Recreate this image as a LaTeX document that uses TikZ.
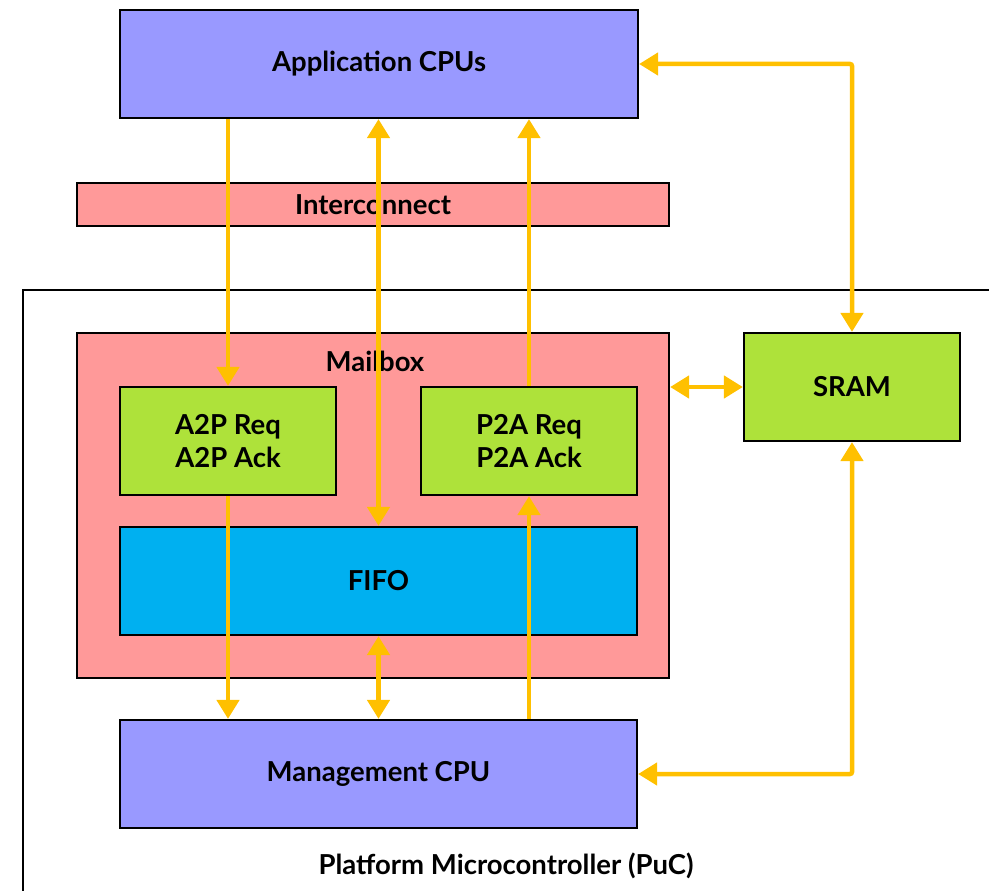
\documentclass[tikz,border=0pt]{standalone}
\usepackage{fontspec}
\setmainfont{Lato}
\usetikzlibrary{arrows.meta,calc}
\definecolor{cpublue}{HTML}{9999FF}
\definecolor{mbpink}{HTML}{FF9999}
\definecolor{memgreen}{HTML}{AEE23A}
\definecolor{fifoblue}{HTML}{00B0F0}
\definecolor{arrowyellow}{HTML}{FFC000}
\tikzset{
  blk/.style={draw=black, line width=2.2pt, rectangle, inner sep=0pt, font=\bfseries\fontsize{27.5}{33}\selectfont, align=center},
  flow/.style={draw=arrowyellow, line width=4.5pt, -{Triangle[width=22pt,length=19pt]}},
  flowboth/.style={draw=arrowyellow, line width=4.5pt, {Triangle[width=22pt,length=19pt]}-{Triangle[width=22pt,length=19pt]}},
  lbl/.style={font=\bfseries\fontsize{27.5}{33}\selectfont, inner sep=0pt}
}
\begin{document}
\begin{tikzpicture}[x=1pt,y=-1pt]
\useasboundingbox (0,0) rectangle (989,891);
% outer PuC frame
\draw[line width=2pt] (23,891) -- (23,290) -- (989,290);
% nodes
\node[blk, fill=cpublue, minimum width=518pt, minimum height=108pt] (app) at (379,64) {Application CPUs};
\node[blk, fill=mbpink, minimum width=592pt, minimum height=43pt] (ic) at (373,204.5) {Interconnect};
\node[blk, fill=mbpink, minimum width=592pt, minimum height=345pt] (mb) at (373,505.5) {};
\node[lbl] (mblbl) at (375,361) {Mailbox};
\node[blk, fill=memgreen, minimum width=216pt, minimum height=108pt] (a2p) at (228,441) {A2P Req\\A2P Ack};
\node[blk, fill=memgreen, minimum width=216pt, minimum height=108pt] (p2a) at (529,441) {P2A Req\\P2A Ack};
\node[blk, fill=fifoblue, minimum width=517pt, minimum height=108pt] (fifo) at (378.5,581) {FIFO};
\node[blk, fill=cpublue, minimum width=517pt, minimum height=108pt] (mgmt) at (378.5,774) {Management CPU};
\node[blk, fill=memgreen, minimum width=216pt, minimum height=108pt] (sram) at (852,387) {SRAM};
\node[lbl] (puclbl) at (506,866) {Platform Microcontroller (PuC)};
% connectors
\draw[flow] (a2p.north |- app.south) -- (a2p.north);
\draw[flowboth] (fifo.north |- app.south) -- (fifo.north);
\draw[flow] (p2a.north) -- (p2a.north |- app.south);
\draw[flowboth, rounded corners=2pt] (app.east) -- (sram.north |- app.east) -- (sram.north);
\draw[flowboth] (sram.west -| mb.east) -- (sram.west);
\draw[flow] (a2p.south) -- (a2p.south |- mgmt.north);
\draw[flowboth] (fifo.south) -- (fifo.south |- mgmt.north);
\draw[flow] (p2a.south |- mgmt.north) -- (p2a.south);
\draw[flowboth, rounded corners=2pt] (mgmt.east) -- (sram.south |- mgmt.east) -- (sram.south);
\end{tikzpicture}
\end{document}
